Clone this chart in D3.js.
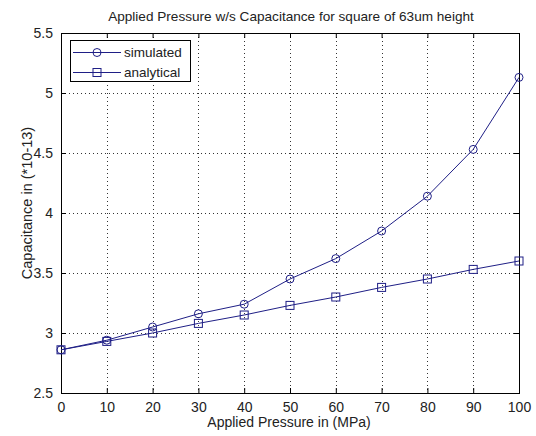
<!DOCTYPE html>
<html>
<head>
<meta charset="utf-8">
<script src="https://cdn.jsdelivr.net/npm/d3@7"></script>
<style>
  html, body { margin: 0; padding: 0; background: #fff; }
  svg { display: block; }
  text { font-family: "Liberation Sans", Arial, sans-serif; fill: #222; }
</style>
</head>
<body>
<svg id="chart" width="536" height="436"></svg>
<script>
// Applied pressure (MPa)
const pressure = [0, 10, 20, 30, 40, 50, 60, 70, 80, 90, 100];
// Capacitance (*10^-13)
const simulated = [2.86, 2.94, 3.05, 3.16, 3.24, 3.45, 3.62, 3.85, 4.14, 4.53, 5.13];
const analytical = [2.86, 2.93, 3.00, 3.08, 3.15, 3.23, 3.30, 3.38, 3.45, 3.53, 3.60];
const xTicks = [0, 10, 20, 30, 40, 50, 60, 70, 80, 90, 100];
const yTicks = [2.5, 3, 3.5, 4, 4.5, 5, 5.5];
const seriesNames = ["simulated", "analytical"];

const svg = d3.select("#chart");
const m = { left: 61, right: 519, top: 33, bottom: 393 };
const lineColor = "#1f1f86";

const x = d3.scaleLinear().domain([0, 100]).range([m.left, m.right]);
const y = d3.scaleLinear().domain([2.5, 5.5]).range([m.bottom, m.top]);

// dotted grid
const grid = svg.append("g").attr("stroke", "#333").attr("stroke-width", 1)
  .attr("stroke-dasharray", "1,3");
xTicks.slice(1, -1).forEach(t => {
  grid.append("line").attr("x1", Math.round(x(t)) + 0.5).attr("x2", Math.round(x(t)) + 0.5)
    .attr("y1", m.top).attr("y2", m.bottom);
});
yTicks.slice(1, -1).forEach(t => {
  grid.append("line").attr("y1", Math.round(y(t)) + 0.5).attr("y2", Math.round(y(t)) + 0.5)
    .attr("x1", m.left).attr("x2", m.right);
});

// axes with inward ticks on all four sides
const xAxis = d3.axisBottom(x).tickValues(xTicks).tickSizeInner(-5).tickSizeOuter(0).tickPadding(9)
  .tickFormat(d3.format("d"));
const yAxis = d3.axisLeft(y).tickValues(yTicks).tickSizeInner(-5).tickSizeOuter(0).tickPadding(8)
  .tickFormat(d => String(d));

const gx = svg.append("g").attr("transform", `translate(0,${m.bottom})`).call(xAxis);
const gy = svg.append("g").attr("transform", `translate(${m.left},0)`).call(yAxis);
[gx, gy].forEach(g => {
  g.select(".domain").remove();
  g.selectAll("line").attr("stroke", "#000");
  g.selectAll("text").style("font-size", "14px").attr("fill", "#222");
});
gx.selectAll("text").attr("y", 18.5).attr("dy", null);

const gxTop = svg.append("g").attr("transform", `translate(0,${m.top})`)
  .call(d3.axisTop(x).tickValues(xTicks).tickSizeInner(-5).tickSizeOuter(0).tickFormat(""));
const gyRight = svg.append("g").attr("transform", `translate(${m.right},0)`)
  .call(d3.axisRight(y).tickValues(yTicks).tickSizeInner(-5).tickSizeOuter(0).tickFormat(""));
[gxTop, gyRight].forEach(g => { g.select(".domain").remove(); g.selectAll("line").attr("stroke", "#000"); });

// plot box
svg.append("rect").attr("x", m.left + 0.5).attr("y", m.top + 0.5)
  .attr("width", m.right - m.left).attr("height", m.bottom - m.top)
  .attr("fill", "none").attr("stroke", "#000").attr("stroke-width", 1);

// series lines and markers
const line = d3.line().x((d, i) => x(pressure[i])).y(d => y(d));
const sets = [simulated, analytical];
sets.forEach((vals, k) => {
  svg.append("path").datum(vals).attr("d", line)
    .attr("fill", "none").attr("stroke", lineColor).attr("stroke-width", 1);
  const g = svg.append("g");
  vals.forEach((v, i) => {
    if (k === 0) {
      g.append("circle").attr("cx", x(pressure[i])).attr("cy", y(v)).attr("r", 4)
        .attr("fill", "none").attr("stroke", lineColor).attr("stroke-width", 1);
    } else {
      g.append("rect").attr("x", x(pressure[i]) - 4).attr("y", y(v) - 4)
        .attr("width", 8).attr("height", 8)
        .attr("fill", "none").attr("stroke", lineColor).attr("stroke-width", 1);
    }
  });
});

// legend
const lg = svg.append("g");
lg.append("rect").attr("x", 70.5).attr("y", 40.5).attr("width", 120).attr("height", 41)
  .attr("fill", "#fff").attr("stroke", "#000").attr("stroke-width", 1);
seriesNames.forEach((name, k) => {
  const cy = 52.5 + k * 20;
  lg.append("line").attr("x1", 73).attr("x2", 121).attr("y1", cy).attr("y2", cy)
    .attr("stroke", lineColor).attr("stroke-width", 1);
  if (k === 0) {
    lg.append("circle").attr("cx", 97).attr("cy", cy).attr("r", 4)
      .attr("fill", "none").attr("stroke", lineColor);
  } else {
    lg.append("rect").attr("x", 93).attr("y", cy - 4).attr("width", 8).attr("height", 8)
      .attr("fill", "none").attr("stroke", lineColor);
  }
  lg.append("text").attr("x", 124).attr("y", cy).attr("dy", "0.35em")
    .style("font-size", "13.5px").text(name);
});

// titles
svg.append("text").attr("x", 291).attr("y", 21).attr("text-anchor", "middle")
  .style("font-size", "13.6px").text("Applied Pressure w/s Capacitance for square of 63um height");
svg.append("text").attr("x", 289).attr("y", 427).attr("text-anchor", "middle")
  .style("font-size", "14px").text("Applied Pressure in (MPa)");
svg.append("text").attr("transform", "translate(32,203) rotate(-90)")
  .attr("text-anchor", "middle").style("font-size", "14.5px").text("Capacitance in (*10-13)");
</script>
</body>
</html>
